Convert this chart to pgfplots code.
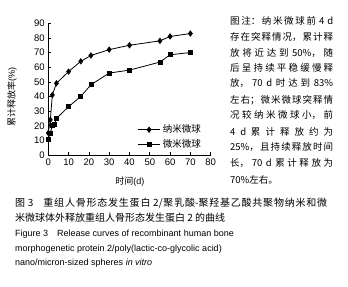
\documentclass[border=0pt]{standalone}
\usepackage{pgfplots}
\pgfplotsset{compat=1.18}
\usepackage{fontspec}
\setmainfont{Liberation Sans}
\newfontfamily\cjk{Noto Sans CJK SC}
\XeTeXlinebreaklocale "zh"
\XeTeXlinebreakskip=0pt plus 2pt
\newcommand\jline[2]{\parbox{#1}{\parfillskip=0pt #2}}
\begin{document}
\begin{tikzpicture}[x=1bp,y=1bp]
\useasboundingbox (0,0) rectangle (348,287);
\fill[white] (0,0) rectangle (348,287);
\begin{axis}[
  at={(48.3bp,132bp)}, anchor=south west,
  scale only axis, width=162.4bp, height=131.7bp,
  xmin=0, xmax=80, ymin=0, ymax=90,
  axis x line*=bottom, axis y line*=left,
  xtick={0,10,...,80}, ytick={0,10,...,90},
  tick align=inside, major tick length=3bp,
  tick style={black, line width=0.6pt},
  axis line style={black, line width=0.8pt},
  ticklabel style={font=\fontsize{9.5bp}{10bp}\selectfont},
  /pgf/number format/assume math mode=true,
  xlabel={\cjk 时间\rmfamily(d)},
  xlabel style={font=\fontsize{9bp}{10bp}\selectfont, at={(axis description cs:0.503,-0.205)}, anchor=center},
  ylabel={\cjk 累计释放率\rmfamily(\%)},
  ylabel style={font=\fontsize{9bp}{10bp}\selectfont, at={(axis description cs:-0.2235,0.44)}, anchor=center},
  legend style={draw=none, fill=none, at={(axis description cs:0.75,0.135)}, anchor=center,
    font=\cjk\fontsize{9.5bp}{10bp}\selectfont, row sep=1.5bp, inner sep=0pt},
  legend cell align=left,
  legend image code/.code={\draw[mark repeat=2,mark phase=2] plot coordinates {(0cm,0cm)(0.4cm,0cm)(0.8cm,0cm)};},
]
\addplot[black, line width=0.8pt, mark=diamond*, mark size=2.6bp] coordinates {
(0,15)(1,24)(2,41)(4,49)(10,57)(16,64)(21,68)(30,72)(40,75)(55,78)(60,81)(70,83)};
\addlegendentry{纳米微球}
\addplot[black, line width=0.8pt, mark=square*, mark size=2bp] coordinates {
(0,11)(1,15)(2,20)(3,21)(4,25)(10,33)(16,40)(21,48)(30,56)(40,58)(55,63.5)(60,68.5)(70,70)};
\addlegendentry{微米微球}
\end{axis}
\begin{scope}[every node/.style={anchor=west, inner sep=0pt, font=\cjk\fontsize{9.5bp}{11bp}\selectfont}]
\node at (230,266) {\jline{103bp}{图注：纳米微球前 4 d}};
\node at (230,250) {\jline{103bp}{存在突释情况，累计释}};
\node at (230,234) {\jline{103bp}{放将近达到 50\%，随}};
\node at (230,219) {\jline{103bp}{后呈持续平稳缓慢释}};
\node at (230,204) {\jline{103bp}{放，70 d 时达到 83\%}};
\node at (230,187) {\jline{103bp}{左右；微米微球突释情}};
\node at (230,172) {\jline{103bp}{况较纳米微球小，前}};
\node at (230,155) {\jline{103bp}{4 d 累计释放约为}};
\node at (230,140) {\jline{103bp}{25\%，且持续释放时间}};
\node at (230,124) {\jline{103bp}{长，70 d 累计释放为}};
\node at (230,107) {70\%左右。};
\node at (15,84) {\fontsize{10bp}{12bp}\selectfont\jline{312bp}{图 3\quad 重组人骨形态发生蛋白 2/聚乳酸-聚羟基乙酸共聚物纳米和微}};
\node at (15,69) {\fontsize{10bp}{12bp}\selectfont 米微球体外释放重组人骨形态发生蛋白 2 的曲线};
\end{scope}
\begin{scope}[every node/.style={anchor=west, inner sep=0pt, font=\fontsize{9bp}{11bp}\selectfont}]
\node at (15,53) {Figure 3\quad Release curves of recombinant human bone};
\node at (15,38) {morphogenetic protein 2/poly(lactic-co-glycolic acid)};
\node at (15,24) {nano/micron-sized spheres \textit{in vitro}};
\end{scope}
\end{tikzpicture}
\end{document}
